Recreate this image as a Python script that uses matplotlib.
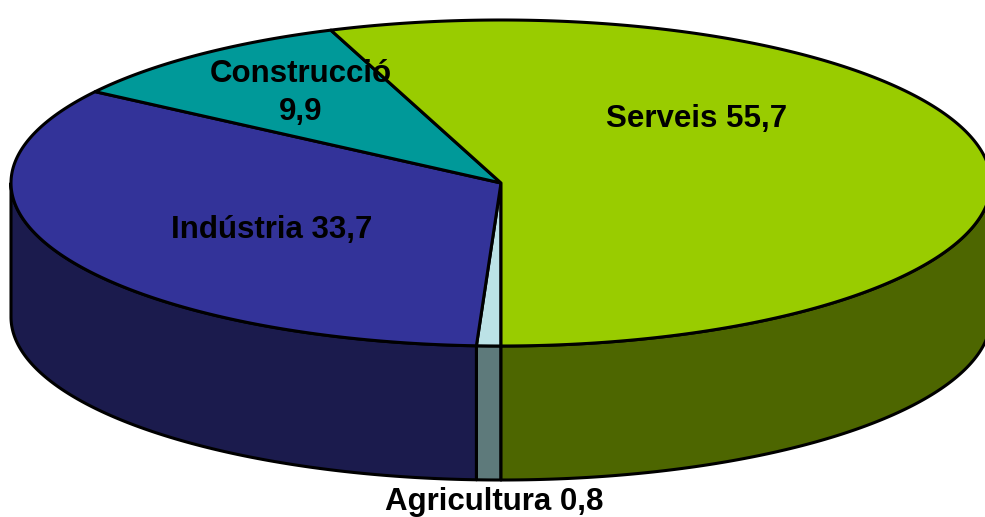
import numpy as np
import matplotlib
matplotlib.use("Agg")
import matplotlib.pyplot as plt
from matplotlib.patches import Polygon

# Data (clockwise starting at 6 o'clock)
categories = ["Agricultura", "Indústria", "Construcció", "Serveis"]
values = [0.8, 33.7, 9.9, 55.7]
labels = ["Agricultura 0,8", "Indústria 33,7", "Construcció\n9,9", "Serveis 55,7"]
top_colors = ["#BCE2E6", "#333399", "#009999", "#99CC00"]
side_colors = ["#5E7A7B", "#1B1B4D", "#004D4D", "#4D6600"]

# Geometry (pixels)
W, H = 985, 517
cx, cy = 501, 183
rx, ry = 490, 163
depth = 134
start_angle = 270.0

fig = plt.figure(figsize=(W / 100, H / 100), dpi=100)
ax = fig.add_axes([0, 0, 1, 1])
ax.set_xlim(0, W)
ax.set_ylim(H, 0)
ax.axis("off")

total = sum(values)
cum = np.concatenate([[0], np.cumsum(values)])
angles = [(start_angle - 360 * cum[i] / total, start_angle - 360 * cum[i + 1] / total)
          for i in range(len(values))]


def arc(t0, t1, dz=0.0, n=None):
    if n is None:
        n = max(4, int(abs(t1 - t0) * 2))
    ts = np.linspace(t0, t1, n)
    r = np.radians(ts)
    return np.column_stack([cx + rx * np.cos(r), cy - ry * np.sin(r) + dz])


lw = 2.2
# side faces (front half visible)
for i, (a0, a1) in enumerate(angles):
    lo, hi = min(a0, a1), max(a0, a1)
    for vlo, vhi in [(180, 360), (-180, 0)]:
        s, e = max(lo, vlo), min(hi, vhi)
        if e > s:
            top = arc(s, e)
            bot = arc(e, s, dz=depth)
            poly = Polygon(np.vstack([top, bot]), closed=True, facecolor=side_colors[i],
                           edgecolor="black", linewidth=lw, joinstyle="round", zorder=1)
            ax.add_patch(poly)

# top faces
for i, (a0, a1) in enumerate(angles):
    pts = np.vstack([[cx, cy], arc(a0, a1)])
    poly = Polygon(pts, closed=True, facecolor=top_colors[i], edgecolor="black",
                   linewidth=lw, joinstyle="round", zorder=2)
    ax.add_patch(poly)

font = dict(family=["Liberation Sans", "DejaVu Sans"], fontweight="bold", fontsize=22.5,
            color="black", ha="center", va="center", zorder=5)
label_pos = [(494, 502), (272, 230), (301, 93), (697, 119)]
for lab, (x, y) in zip(labels, label_pos):
    ax.text(x, y, lab, linespacing=1.35, **font)

fig.savefig("out.png", dpi=100, facecolor="white")
